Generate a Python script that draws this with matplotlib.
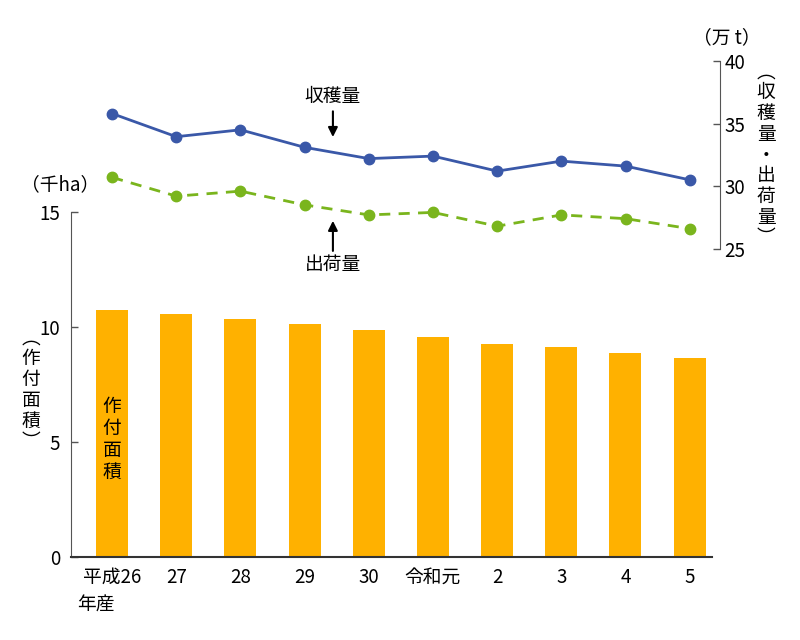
import matplotlib
matplotlib.use("Agg")
import matplotlib.pyplot as plt

plt.rcParams['font.family'] = ['Noto Sans CJK JP', 'DejaVu Sans']

years = ["平成26", "27", "28", "29", "30", "令和元", "2", "3", "4", "5"]
area = [10.74, 10.58, 10.35, 10.13, 9.88, 9.58, 9.29, 9.13, 8.90, 8.67]
harvest = [35.8, 33.95, 34.5, 33.1, 32.2, 32.4, 31.2, 32.0, 31.6, 30.5]
shipment = [30.7, 29.2, 29.6, 28.5, 27.7, 27.9, 26.8, 27.7, 27.4, 26.6]

W, H = 800, 640
fig = plt.figure(figsize=(8, 6.4), dpi=100)

BAR_C = '#FFB100'
BLUE = '#3A58A8'
GREEN = '#7AB51D'
FS = 13.5

def fx(px):
    return px / W

def fy(py):
    return 1 - py / H

x = list(range(len(years)))

# bar axes
l1, r1, t1, b1 = 71, 712, 212.3, 557.3
ax1 = fig.add_axes([fx(l1), fy(b1), fx(r1 - l1), (b1 - t1) / H])
ax1.bar(x, area, width=0.5, color=BAR_C, zorder=2)
ax1.set_xlim(-0.64, 9.35)
ax1.set_ylim(0, 15)
ax1.set_yticks([0, 5, 10, 15])
ax1.set_xticks(x)
ax1.set_xticklabels(years, fontsize=FS)
ax1.tick_params(axis='x', length=0, pad=7)
ax1.tick_params(axis='y', direction='in', length=5, labelsize=FS, pad=8, color='#555555', width=1)
for s in ['top', 'right']:
    ax1.spines[s].set_visible(False)
ax1.spines['left'].set_color('#555555')
ax1.spines['bottom'].set_color('#333333')
ax1.spines['bottom'].set_linewidth(1.5)
ax1.patch.set_alpha(0)

# line axes
l2, r2, t2, b2 = 71, 720, 61, 248.7
ax2 = fig.add_axes([fx(l2), fy(b2), fx(r2 - l2), (b2 - t2) / H])
ax2.plot(x, harvest, color=BLUE, lw=2, marker='o', ms=7.5, clip_on=False, zorder=3)
ax2.plot(x, shipment, color=GREEN, lw=2, ls=(0, (4, 3)), marker='o', ms=7.5, clip_on=False, zorder=3)
ax2.set_xlim(-0.64, 9.47)
ax2.set_ylim(25, 40)
ax2.set_yticks([25, 30, 35, 40])
ax2.yaxis.tick_right()
ax2.tick_params(axis='y', direction='in', length=5, labelsize=FS, pad=3, color='#555555', width=1)
ax2.set_xticks([])
for s in ['top', 'left', 'bottom']:
    ax2.spines[s].set_visible(False)
ax2.spines['right'].set_color('#555555')
ax2.patch.set_alpha(0)

arrow = dict(arrowstyle='-|>', color='black', lw=1.5, mutation_scale=14)
ax2.text(3.44, 36.35, "収穫量", ha='center', va='bottom', fontsize=FS)
ax2.annotate('', xy=(3.44, 33.7), xytext=(3.44, 36.2), arrowprops=arrow, annotation_clip=False)
ax2.text(3.44, 24.55, "出荷量", ha='center', va='top', fontsize=FS, clip_on=False)
ax2.annotate('', xy=(3.44, 27.45), xytext=(3.44, 24.6), arrowprops=arrow, annotation_clip=False)

# unit labels
fig.text(fx(60), fy(185), "（千ha）", ha='center', va='center', fontsize=FS)
fig.text(fx(727), fy(38), "（万 t）", ha='center', va='center', fontsize=FS)
fig.text(fx(77), fy(605), "年産", ha='left', va='center', fontsize=FS)

# vertical labels
fig.text(fx(766), fy(155), "︵\n収\n穫\n量\n・\n出\n荷\n量\n︶", ha='center', va='center',
         fontsize=FS, linespacing=0.98)
fig.text(fx(31), fy(390), "︵\n作\n付\n面\n積\n︶", ha='center', va='center',
         fontsize=FS, linespacing=0.98)
ax1.text(0, 7.0, "作\n付\n面\n積", ha='center', va='top', fontsize=FS, linespacing=1.05)

fig.savefig("out.png", dpi=100)
